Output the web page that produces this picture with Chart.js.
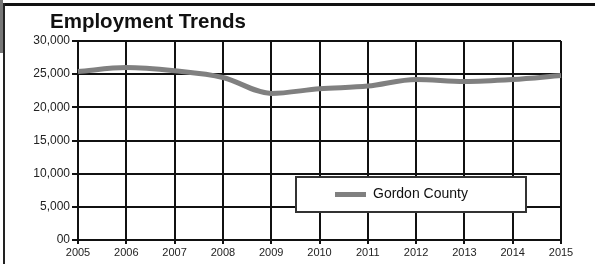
<!DOCTYPE html>
<html><head><meta charset="utf-8">
<script src="https://cdn.jsdelivr.net/npm/chart.js@4/dist/chart.umd.min.js"></script>
<style>
html,body{margin:0;padding:0;background:#fff;}
#wrap{position:relative;width:595px;height:264px;overflow:hidden;}
#c{position:absolute;left:0;top:0;}
.topline{position:absolute;left:4px;top:3px;width:591px;height:3px;background:#111;}
.leftline{position:absolute;left:3px;top:3px;width:2px;height:261px;background:#222;}
.leftgray{position:absolute;left:0;top:0;width:3px;height:53px;background:#777;}
</style></head>
<body><div id="wrap"><canvas id="c" width="595" height="264"></canvas>
<div class="topline"></div><div class="leftline"></div><div class="leftgray"></div></div>
<script>
const titleText = "Employment Trends";
const years = ["2005","2006","2007","2008","2009","2010","2011","2012","2013","2014","2015"];
const seriesName = "Gordon County";
const employment = [25400, 26000, 25500, 24500, 22100, 22800, 23200, 24200, 23900, 24200, 24800];
const yTicks = [0, 5000, 10000, 15000, 20000, 25000, 30000];
const yTickLabels = ["00", "5,000", "10,000", "15,000", "20,000", "25,000", "30,000"];

const decor = {
  id: 'decor',
  afterDraw(chart) {
    const ctx = chart.ctx;
    ctx.save();
    ctx.fillStyle = '#111';
    ctx.font = 'bold 20.5px "Liberation Sans", Arial, sans-serif';
    ctx.textBaseline = 'alphabetic';
    ctx.textAlign = 'left';
    ctx.fillText(titleText, 50, 28);
    const ds = chart.data.datasets[0];
    const bx = 296, by = 177, bw = 230, bh = 35;
    ctx.fillStyle = '#fff';
    ctx.fillRect(bx, by, bw, bh);
    ctx.strokeStyle = '#333';
    ctx.lineWidth = 2;
    ctx.strokeRect(bx, by, bw, bh);
    ctx.strokeStyle = ds.borderColor;
    ctx.lineWidth = 5;
    ctx.beginPath();
    ctx.moveTo(335, by + bh / 2);
    ctx.lineTo(366, by + bh / 2);
    ctx.stroke();
    ctx.fillStyle = '#111';
    ctx.font = '14px "Liberation Sans", Arial, sans-serif';
    ctx.textBaseline = 'middle';
    ctx.fillText(ds.label, 373, by + bh / 2);
    ctx.restore();
  }
};

new Chart(document.getElementById('c'), {
  type: 'line',
  data: {
    labels: years,
    datasets: [{
      label: seriesName,
      data: employment,
      borderColor: '#808080',
      borderWidth: 5,
      pointRadius: 0,
      tension: 0.4,
      cubicInterpolationMode: 'monotone',
      fill: false
    }]
  },
  options: {
    responsive: false,
    animation: false,
    devicePixelRatio: 1,
    layout: { padding: { top: 41, right: 34, bottom: 0, left: 0 } },
    plugins: { legend: { display: false }, title: { display: false }, tooltip: { enabled: false } },
    scales: {
      x: {
        offset: false,
        grid: { color: '#111', lineWidth: 2, tickLength: 4, drawTicks: true },
        border: { color: '#111', width: 2 },
        ticks: { color: '#222', font: { size: 11, family: '"Liberation Sans", Arial, sans-serif' }, padding: 2, maxRotation: 0, autoSkip: false },
        afterFit(s) { s.height = 24; }
      },
      y: {
        min: 0, max: 30000,
        grid: { color: '#111', lineWidth: 2, tickLength: 6 },
        border: { color: '#111', width: 2 },
        afterBuildTicks(s) { s.ticks = yTicks.map(v => ({ value: v })); },
        ticks: {
          color: '#222',
          font: { size: 12, family: '"Liberation Sans", Arial, sans-serif' },
          padding: 2,
          callback(v) { const i = yTicks.indexOf(v); return i >= 0 ? yTickLabels[i] : ''; }
        },
        afterFit(s) { s.width = 78; }
      }
    }
  },
  plugins: [decor]
});
</script></body></html>
